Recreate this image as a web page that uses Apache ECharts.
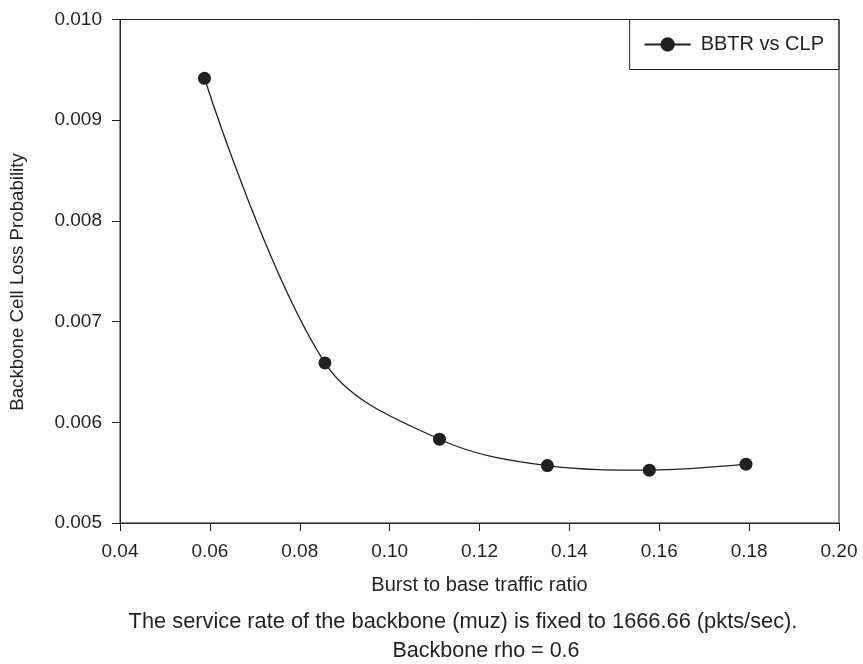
<!DOCTYPE html>
<html>
<head>
<meta charset="utf-8">
<script src="https://cdn.jsdelivr.net/npm/echarts@6/dist/echarts.min.js"></script>
<style>html,body{margin:0;padding:0;background:#fff}#c{width:863px;height:664px}</style>
</head>
<body>
<div id="c"></div>
<script>
const seriesName = 'BBTR vs CLP';
const xValues = [0.0588, 0.0856, 0.1111, 0.1351, 0.1578, 0.1793];
const yValues = [0.009416, 0.00659, 0.005832, 0.00557, 0.005525, 0.005584];
const xTicks = { min: 0.04, max: 0.20, interval: 0.02 };
const yTicks = { min: 0.005, max: 0.010, interval: 0.001 };
const xTitle = 'Burst to base traffic ratio';
const yTitle = 'Backbone Cell Loss Probability';
const captionLines = ['The service rate of the backbone (muz) is fixed to 1666.66 (pkts/sec).', 'Backbone rho = 0.6'];

const ink = '#231f20';
const font = 'Liberation Sans, Arial, Helvetica, sans-serif';
const chart = echarts.init(document.getElementById('c'));
chart.setOption({
  animation: false,
  backgroundColor: '#fff',
  textStyle: { fontFamily: font, color: ink },
  grid: { left: 120, right: 24, top: 19.5, bottom: 141, show: true, borderColor: ink, borderWidth: 1 },
  graphic: [
    { type: 'text', x: 18, y: 282, rotation: Math.PI / 2,
      style: { text: yTitle, fill: ink, font: '18.7px ' + font, textAlign: 'center', textVerticalAlign: 'middle' } },
    { type: 'text', x: 463, y: 622,
      style: { text: captionLines[0], fill: ink, font: '21.8px ' + font, textAlign: 'center', textVerticalAlign: 'middle' } },
    { type: 'text', x: 486, y: 651.5,
      style: { text: captionLines[1], fill: ink, font: '21.5px ' + font, textAlign: 'center', textVerticalAlign: 'middle' } }
  ],
  legend: {
    right: 24, top: 19.5,
    data: [seriesName],
    borderColor: ink, borderWidth: 1, borderRadius: 0,
    padding: [15, 15, 15, 14],
    itemWidth: 46, itemHeight: 18, itemGap: 10,
    textStyle: { fontFamily: font, fontSize: 20, color: ink, padding: [0, 0, 0, 5] }
  },
  xAxis: {
    type: 'value', min: xTicks.min, max: xTicks.max, interval: xTicks.interval,
    name: xTitle, nameLocation: 'middle', nameGap: 52,
    nameTextStyle: { fontFamily: font, fontSize: 20, color: ink },
    axisLine: { show: true, lineStyle: { color: ink, width: 1 } },
    axisTick: { show: true, length: 8, inside: false, lineStyle: { color: ink } },
    axisLabel: { margin: 19, fontSize: 19, color: ink, fontFamily: font,
      formatter: v => v.toFixed(2) },
    splitLine: { show: false }
  },
  yAxis: {
    type: 'value', min: yTicks.min, max: yTicks.max, interval: yTicks.interval,
    axisLine: { show: true, lineStyle: { color: ink, width: 1 } },
    axisTick: { show: true, length: 8, inside: false, lineStyle: { color: ink } },
    axisLabel: { margin: 18, fontSize: 19, color: ink, fontFamily: font,
      formatter: v => v.toFixed(3) },
    splitLine: { show: false }
  },
  series: [{
    name: seriesName,
    type: 'line',
    data: xValues.map((x, i) => [x, yValues[i]]),
    smooth: 0.35,
    symbol: 'circle', symbolSize: 13,
    itemStyle: { color: ink },
    lineStyle: { color: ink, width: 1.3 }
  }]
});
</script>
</body>
</html>
